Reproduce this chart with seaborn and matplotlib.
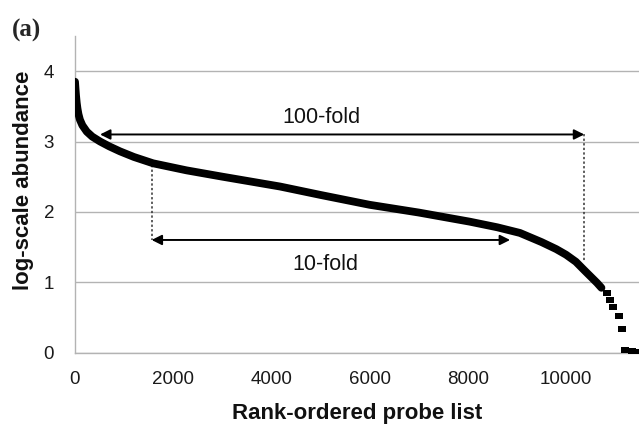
import matplotlib
matplotlib.use("Agg")
import matplotlib.pyplot as plt
import pandas as pd
import seaborn as sns

# ---- data ----
rank_dense = [0, 10, 20, 35, 50, 70, 100, 150, 240, 350, 510, 700, 916, 1200, 1590,
              2270, 3000, 4175, 5000, 6000, 7000, 8040, 8600, 9060, 9500, 9800,
              10000, 10200, 10370, 10500, 10630, 10720]
abund_dense = [3.85, 3.75, 3.66, 3.55, 3.47, 3.39, 3.31, 3.23, 3.14, 3.07, 3.00, 2.93,
               2.86, 2.78, 2.69, 2.59, 2.50, 2.36, 2.24, 2.10, 1.99, 1.86, 1.78, 1.70,
               1.57, 1.47, 1.39, 1.29, 1.17, 1.08, 0.99, 0.92]
rank_tail = [10830, 10900, 10960, 11070, 11130, 11200, 11340, 11440]
abund_tail = [0.84, 0.75, 0.65, 0.52, 0.34, 0.04, 0.02, 0.01]

x_ticks = [0, 2000, 4000, 6000, 8000, 10000]
y_ticks = [0, 1, 2, 3, 4]

arrow100_x = [510, 10370]
arrow100_y = 3.10
arrow10_x = [1560, 8860]
arrow10_y = 1.60
drop10 = [2.67, 1.60]      # dotted line at arrow10_x[0]
drop100 = [3.10, 1.29]     # dotted line at arrow100_x[1]
label100 = (5010, 3.27, "100-fold")
label10 = (5090, 1.18, "10-fold")

dense = pd.DataFrame({"rank": rank_dense, "abundance": abund_dense})
tail = pd.DataFrame({"rank": rank_tail, "abundance": abund_tail})

sns.set_style("white")
plt.rcParams["font.family"] = ["Liberation Sans", "DejaVu Sans"]

W, H = 639, 425
fig = plt.figure(figsize=(W / 100, H / 100), dpi=100)
ax = fig.add_axes([75 / W, (H - 352.5) / H, (W - 75) / W, (352.5 - 36) / H])

grid_c = "#b3b3b3"
for yv in y_ticks:
    ax.axhline(yv, color=grid_c, lw=1.0, zorder=0)

sns.lineplot(data=dense, x="rank", y="abundance", ax=ax, color="black",
             lw=5.6, solid_capstyle="round", solid_joinstyle="round",
             zorder=3, sort=False)
rect = [(-1, -0.7), (1, -0.7), (1, 0.7), (-1, 0.7)]
sns.scatterplot(data=tail, x="rank", y="abundance", ax=ax, color="black",
                marker=rect, s=34, linewidth=0, zorder=3)

# dotted drop lines
ax.plot([arrow10_x[0]] * 2, drop10, ls=(0, (1.5, 1.5)), color="#333333", lw=1.1, zorder=2)
ax.plot([arrow100_x[1]] * 2, drop100, ls=(0, (1.5, 1.5)), color="#333333", lw=1.1, zorder=2)

# double-headed arrows
ap = dict(arrowstyle="<|-|>", color="black", lw=1.4, mutation_scale=15,
          shrinkA=0, shrinkB=0)
ax.annotate("", xy=(arrow100_x[0], arrow100_y), xytext=(arrow100_x[1], arrow100_y),
            arrowprops=ap, zorder=4)
ax.annotate("", xy=(arrow10_x[0], arrow10_y), xytext=(arrow10_x[1], arrow10_y),
            arrowprops=ap, zorder=4)

ax.text(label100[0], label100[1], label100[2], ha="center", va="baseline",
        fontsize=15.5, color="#111111")
ax.text(label10[0], label10[1], label10[2], ha="center", va="baseline",
        fontsize=15.5, color="#111111")

ax.set_xlim(0, 11485)
ax.set_ylim(0, 4.5)
ax.set_xticks(x_ticks)
ax.set_yticks(y_ticks)
ax.set_xticklabels([str(v) for v in x_ticks])
ax.set_yticklabels([str(v) for v in y_ticks])
ax.tick_params(axis="both", direction="out", length=5, width=1, color=grid_c,
               labelsize=13.5, labelcolor="#1a1a1a", pad=8)
ax.tick_params(axis="y", length=7)

for s in ["top", "right"]:
    ax.spines[s].set_visible(False)
for s in ["left", "bottom"]:
    ax.spines[s].set_color(grid_c)
    ax.spines[s].set_linewidth(1.0)

ax.set_xlabel("Rank-ordered probe list", fontsize=16, fontweight="bold",
              color="#111111", labelpad=11)
ax.set_ylabel("log-scale abundance", fontsize=16, fontweight="bold",
              color="#111111", labelpad=6)
ax.yaxis.set_label_coords(-0.073, 0.545)

fig.text(12 / W, 1 - 30 / H, "(a)", fontsize=18, fontweight="bold",
         family=["Liberation Serif", "DejaVu Serif"], va="center", ha="left")

fig.savefig("out.png", dpi=100)
